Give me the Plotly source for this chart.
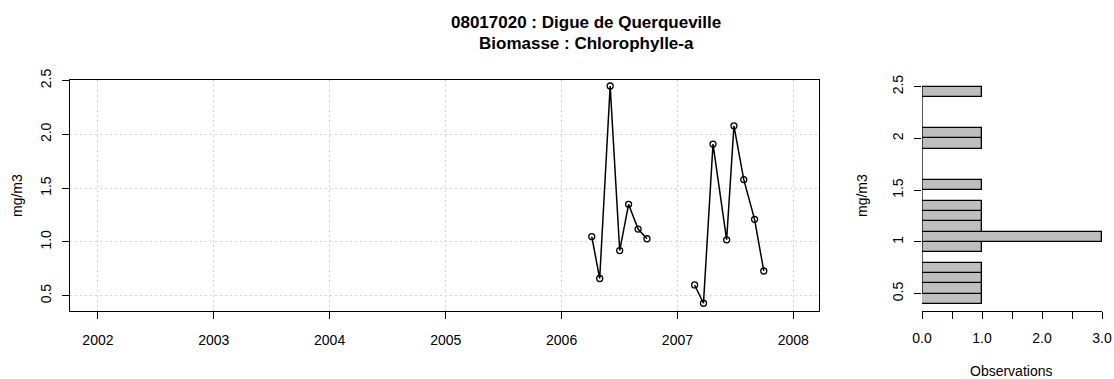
import numpy as np
import plotly.graph_objects as go

# Chlorophyll-a samples at Digue de Querqueville (mg/m3), one list per season
dates_2006 = ["2006-04-06", "2006-05-01", "2006-06-03", "2006-07-03",
              "2006-07-31", "2006-08-30", "2006-09-27"]
chla_2006 = [1.05, 0.66, 2.45, 0.92, 1.35, 1.12, 1.03]

dates_2007 = ["2007-02-24", "2007-03-24", "2007-04-23", "2007-06-05",
              "2007-06-28", "2007-07-29", "2007-09-01", "2007-09-30"]
chla_2007 = [0.60, 0.43, 1.91, 1.02, 2.08, 1.58, 1.21, 0.73]

year_ticks = ["2002", "2003", "2004", "2005", "2006", "2007", "2008"]
value_ticks = [0.5, 1.0, 1.5, 2.0, 2.5]
main_tick_text = ["0.5", "1.0", "1.5", "2.0", "2.5"]
hist_tick_text = ["0.5", "1", "1.5", "2", "2.5"]
obs_ticks = [0.0, 0.5, 1.0, 1.5, 2.0, 2.5, 3.0]
obs_tick_text = ["0.0", "", "1.0", "", "2.0", "", "3.0"]

# histogram of all values, right-closed bins of width 0.1
all_values = np.array(chla_2006 + chla_2007)
edges = [round(0.4 + 0.1 * i, 1) for i in range(22)]
counts = [int(np.sum((all_values > lo) & (all_values <= hi)))
          for lo, hi in zip(edges[:-1], edges[1:])]
centers = [(lo + hi) / 2 for lo, hi in zip(edges[:-1], edges[1:])]

W, H = 1114, 379
FONT = "Liberation Sans, Arial, Helvetica, sans-serif"
BASE = 14


def px_x(p):
    return p / W


def px_y(p):
    return (H - p) / H


fig = go.Figure()

for d, v in ((dates_2006, chla_2006), (dates_2007, chla_2007)):
    fig.add_trace(go.Scatter(
        x=d, y=v, mode="lines+markers",
        line=dict(color="black", width=1.5),
        marker=dict(symbol="circle-open", size=6, color="black",
                    line=dict(width=1.3)),
        xaxis="x", yaxis="y", showlegend=False,
    ))

fig.add_trace(go.Bar(
    x=counts, y=centers, orientation="h", width=0.1,
    marker=dict(color="#BEBEBE", line=dict(color="black", width=1.3)),
    xaxis="x2", yaxis="y2", showlegend=False,
))

plot_top, plot_bottom = 80, 311
ydom = [px_y(plot_bottom), px_y(plot_top)]

axis_common = dict(
    ticks="outside", ticklen=7, tickwidth=1, tickcolor="black",
    tickfont=dict(family=FONT, size=BASE, color="black"),
    zeroline=False, automargin=False,
)

fig.update_layout(
    template="none",
    width=W, height=H,
    margin=dict(l=0, r=0, t=0, b=0),
    paper_bgcolor="white", plot_bgcolor="white",
    font=dict(family=FONT, color="black"),
    bargap=0,
    xaxis=dict(
        domain=[px_x(70), px_x(819)],
        type="date",
        range=["2001-10-05", "2008-03-22"],
        tickvals=[f"{y}-01-01" for y in year_ticks],
        ticktext=year_ticks,
        showgrid=True, gridcolor="#D3D3D3", gridwidth=1, griddash="2px,3px",
        showline=True, linecolor="black", linewidth=1.3, mirror=True,
        anchor="y",
        ticklabelstandoff=9,
        **axis_common,
    ),
    yaxis=dict(
        domain=ydom,
        range=[0.358, 2.506],
        tickvals=value_ticks, ticktext=main_tick_text, tickangle=-90,
        showgrid=True, gridcolor="#D3D3D3", gridwidth=1, griddash="2px,3px",
        showline=True, linecolor="black", linewidth=1.3, mirror=True,
        anchor="x",
        ticklabelstandoff=5,
        **axis_common,
    ),
    xaxis2=dict(
        domain=[px_x(922), px_x(1102)],
        range=[0, 3],
        tickvals=obs_ticks, ticktext=obs_tick_text,
        showgrid=False,
        showline=True, linecolor="black", linewidth=1.3,
        anchor="y2",
        ticklabelstandoff=7,
        **axis_common,
    ),
    yaxis2=dict(
        domain=ydom,
        range=[0.332, 2.565],
        tickvals=value_ticks, ticktext=hist_tick_text, tickangle=-90,
        showgrid=False, showline=False,
        anchor="x2",
        ticklabelstandoff=5,
        **axis_common,
    ),
)

# left axis line of the histogram, from first to last tick
fig.add_shape(type="line", xref="x2", yref="y2", x0=0, x1=0, y0=0.5, y1=2.5,
              line=dict(color="black", width=1.3), layer="above")

labels = [
    (586, 23, "<b>08017020 : Digue de Querqueville</b>", 17, 0),
    (586, 43, "<b>Biomasse : Chlorophylle-a</b>", 17, 0),
    (17, 196, "mg/m3", BASE, -90),
    (862, 196, "mg/m3", BASE, -90),
    (1011, 371, "Observations", BASE, 0),
]
for x, y, text, size, angle in labels:
    fig.add_annotation(xref="paper", yref="paper", showarrow=False,
                       x=px_x(x), y=px_y(y), text=text, textangle=angle,
                       xanchor="center", yanchor="middle",
                       font=dict(family=FONT, size=size, color="black"))

fig.write_html("out.html")
